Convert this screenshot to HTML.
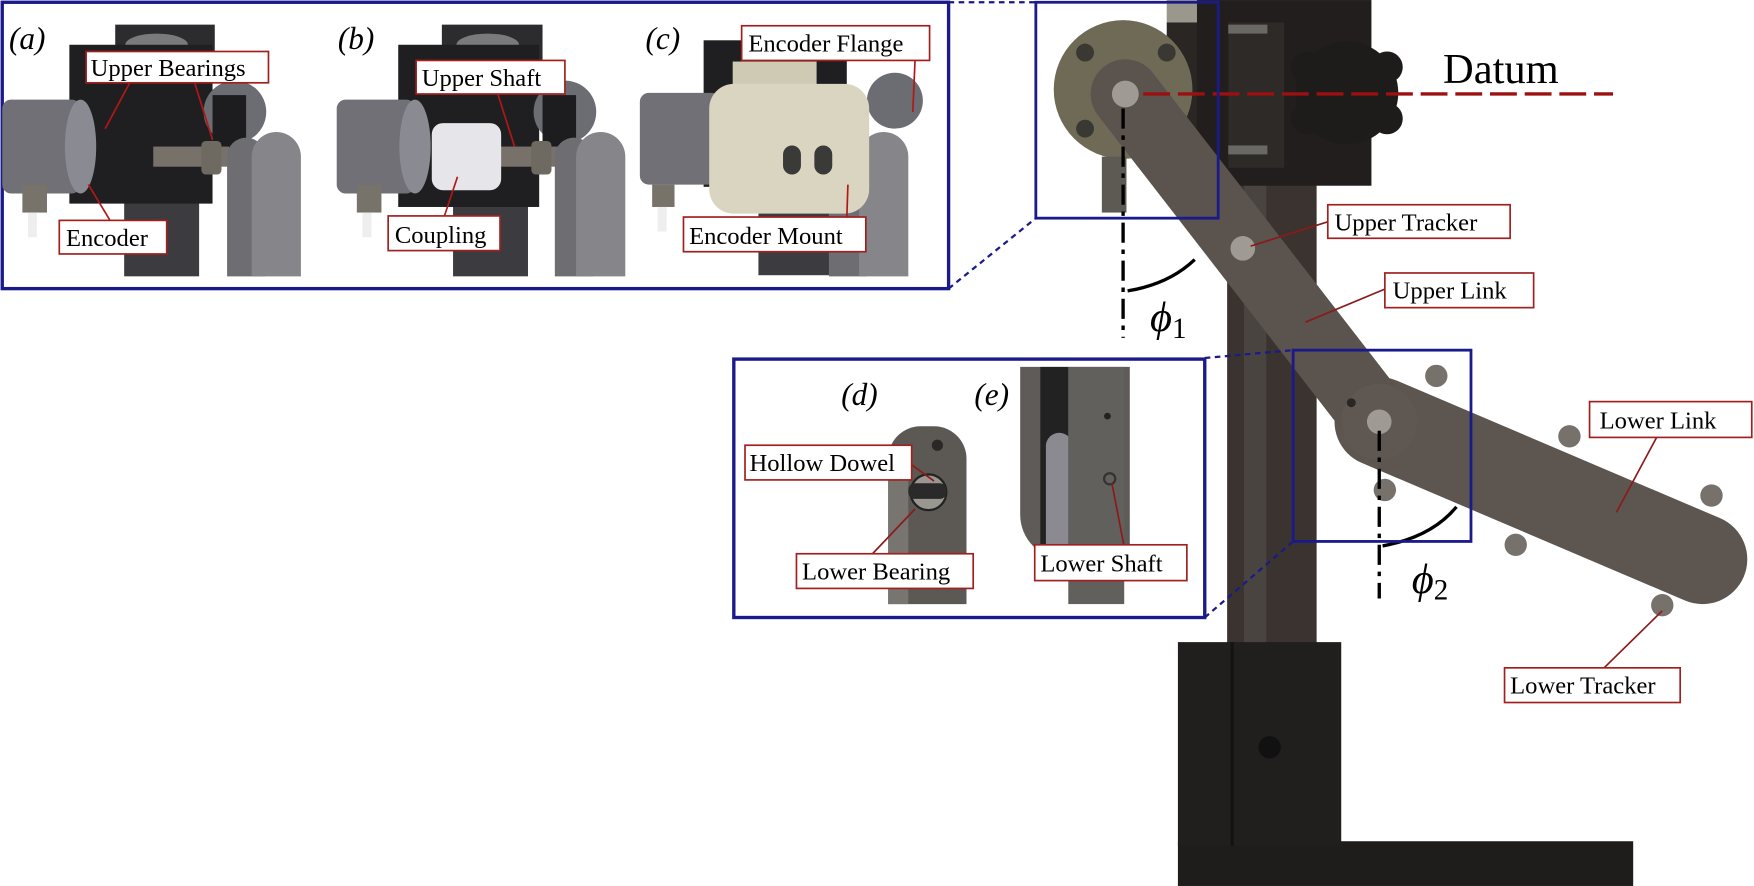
<!DOCTYPE html>
<html><head><meta charset="utf-8"><style>
html,body{margin:0;padding:0;background:#fff;}
svg{display:block;}
text{font-family:"Liberation Serif",serif;}
</style></head><body>
<svg width="1754" height="886" viewBox="0 0 1568 792" xmlns="http://www.w3.org/2000/svg">
<rect width="1568" height="792" fill="#fff"/>

<!-- foot -->
<rect x="1053" y="752" width="407" height="40" fill="#1f1c1c"/>
<!-- pole -->
<rect x="1097" y="160" width="80" height="420" fill="#3a332f"/>
<rect x="1112" y="160" width="20" height="420" fill="#4a4440"/>
<!-- base block -->
<rect x="1053" y="574" width="146" height="182" fill="#211e1e"/>
<rect x="1100" y="574" width="3" height="182" fill="#151212"/>
<circle cx="1135" cy="668" r="10" fill="#111"/>
<!-- top dark block -->
<rect x="1043" y="0" width="27" height="20" fill="#9a978c"/>
<rect x="1043" y="20" width="30" height="150" fill="#2a2624"/>
<rect x="1070" y="0" width="156" height="166" fill="#221e1d"/>
<rect x="1098" y="20" width="50" height="130" fill="#2e2a28"/>
<rect x="1098" y="22" width="35" height="8" fill="#6a6864"/>
<rect x="1098" y="130" width="35" height="8" fill="#6a6864"/>
<!-- knob -->
<circle cx="1204" cy="83" r="46" fill="#1e1b1b"/>
<circle cx="1168" cy="60" r="14" fill="#1e1b1b"/><circle cx="1240" cy="60" r="14" fill="#1e1b1b"/>
<circle cx="1168" cy="106" r="14" fill="#1e1b1b"/><circle cx="1240" cy="106" r="14" fill="#1e1b1b"/>
<!-- encoder flange -->
<circle cx="1004" cy="80" r="62" fill="#6f6a55"/>
<circle cx="970" cy="47" r="8" fill="#3a3833"/><circle cx="1043" cy="47" r="8" fill="#3a3833"/><circle cx="970" cy="115" r="8" fill="#3a3833"/>
<rect x="985" y="140" width="22" height="50" fill="#5c5a52"/>
<!-- lower tracker bumps -->
<g fill="#77716c">
<circle cx="1284" cy="336" r="10"/><circle cx="1403" cy="390" r="10"/><circle cx="1530" cy="443" r="10"/>
<circle cx="1355" cy="487" r="10"/><circle cx="1486" cy="541" r="10"/><circle cx="1238" cy="438" r="10"/>
</g>
<!-- lower link -->
<line x1="1233" y1="377" x2="1522" y2="500" stroke="#5c5550" stroke-width="80" stroke-linecap="round"/>
<!-- upper link -->
<line x1="1006" y1="84" x2="1233" y2="377" stroke="#5a534e" stroke-width="62" stroke-linecap="round"/>
<circle cx="1233" cy="377" r="34" fill="#5e5752"/>
<circle cx="1208" cy="360" r="4" fill="#2a2624"/>
<circle cx="1006" cy="84" r="12" fill="#a09a94"/>
<circle cx="1111" cy="222" r="11" fill="#a09a94"/>
<circle cx="1233" cy="377" r="11" fill="#a09a94"/>

<!-- datum -->
<line x1="1022" y1="84" x2="1442" y2="84" stroke="#9b1010" stroke-width="3" stroke-dasharray="24,7"/>
<text x="1290" y="74" font-size="38" fill="#000">Datum</text>
<!-- phi1 -->
<line x1="1004" y1="97" x2="1004" y2="302" stroke="#000" stroke-width="3" stroke-dasharray="18,6,4,6"/>
<path d="M1008 260 Q1045 254 1068 232" fill="none" stroke="#000" stroke-width="3"/>
<text x="1028" y="296" font-size="38" font-style="italic">ϕ<tspan font-size="26" font-style="normal" dy="6">1</tspan></text>
<!-- phi2 -->
<line x1="1233" y1="385" x2="1233" y2="535" stroke="#000" stroke-width="3" stroke-dasharray="18,6,4,6"/>
<path d="M1236 488 Q1280 480 1302 453" fill="none" stroke="#000" stroke-width="3"/>
<text x="1262" y="530" font-size="38" font-style="italic">ϕ<tspan font-size="26" font-style="normal" dy="6">2</tspan></text>

<rect x="926" y="2" width="163" height="193" fill="none" stroke="#1a1a8a" stroke-width="2.5"/>
<rect x="1156" y="313" width="159" height="171" fill="none" stroke="#1a1a8a" stroke-width="2.5"/>
<g stroke="#1a1a8a" stroke-width="2" stroke-dasharray="5,4">
<line x1="848" y1="2" x2="926" y2="2"/>
<line x1="848" y1="258" x2="926" y2="195"/>
<line x1="1077" y1="320" x2="1156" y2="313"/>
<line x1="1077" y1="552" x2="1156" y2="484"/>
</g>

<g stroke="#8b1a1a" stroke-width="1.5" fill="none">
<line x1="1194" y1="196" x2="1118" y2="220"/>
<line x1="1239" y1="258" x2="1167" y2="288"/>
<line x1="1489" y1="376" x2="1445" y2="458"/>
<line x1="1433" y1="598" x2="1486" y2="546"/>
</g>
<g fill="#fff" stroke="#a02020" stroke-width="1.5">
<rect x="1187" y="183" width="163" height="30"/>
<rect x="1238" y="244" width="133" height="31"/>
<rect x="1421" y="359" width="145" height="32"/>
<rect x="1345" y="597" width="157" height="31"/>
</g>
<g font-size="22" fill="#000">
<text x="1193" y="206">Upper Tracker</text>
<text x="1245" y="267">Upper Link</text>
<text x="1430" y="383">Lower Link</text>
<text x="1350" y="620">Lower Tracker</text>
</g>

<!-- ===== Top panel ===== -->
<rect x="2" y="2" width="846" height="256" fill="#fff" stroke="#1a1a8a" stroke-width="3"/>
<rect x="111" y="175" width="67" height="72" fill="#3c3c40"/>
<rect x="103" y="22" width="89" height="40" fill="#2c2c2e"/>
<ellipse cx="140" cy="40" rx="28" ry="10" fill="#7a7a7c"/>
<rect x="62" y="40" width="128" height="142" fill="#1f1f21"/>
<circle cx="210" cy="100" r="28" fill="#6b6d72"/>
<rect x="190" y="85" width="30" height="50" fill="#1d1d1f"/>
<rect x="137" y="131" width="68" height="18" fill="#77716a"/>
<rect x="180" y="126" width="18" height="30" rx="4" fill="#6e6a62"/>
<path d="M203 247 V140 a17 17 0 0 1 34 0 V247 Z" fill="#6e6e72"/>
<path d="M225 247 V140 a22 22 0 0 1 44 0 V247 Z" fill="#85858a"/>
<rect x="2" y="89" width="70" height="84" rx="8" fill="#707076"/>
<ellipse cx="72" cy="131" rx="14" ry="42" fill="#8a8a92"/>
<rect x="20" y="165" width="22" height="25" fill="#77736a"/>
<rect x="25" y="190" width="8" height="22" fill="#eee"/>
<text x="8" y="44" font-size="28" font-style="italic">(a)</text>
<rect x="405" y="175" width="67" height="72" fill="#3c3c40"/>
<rect x="395" y="22" width="90" height="40" fill="#2c2c2e"/>
<ellipse cx="436" cy="40" rx="28" ry="10" fill="#7a7a7c"/>
<rect x="356" y="40" width="126" height="145" fill="#1f1f21"/>
<circle cx="505" cy="100" r="28" fill="#6b6d72"/>
<rect x="485" y="85" width="30" height="50" fill="#1d1d1f"/>
<rect x="440" y="131" width="60" height="18" fill="#77716a"/>
<rect x="475" y="126" width="18" height="30" rx="4" fill="#6e6a62"/>
<path d="M496 247 V140 a17 17 0 0 1 34 0 V247 Z" fill="#6e6e72"/>
<path d="M515 247 V140 a22 22 0 0 1 44 0 V247 Z" fill="#85858a"/>
<rect x="301" y="89" width="70" height="84" rx="8" fill="#707076"/>
<ellipse cx="371" cy="131" rx="14" ry="42" fill="#8a8a92"/>
<rect x="386" y="110" width="62" height="60" rx="10" fill="#e6e6ea"/>
<rect x="319" y="165" width="22" height="25" fill="#77736a"/>
<rect x="324" y="190" width="8" height="22" fill="#eee"/>
<text x="302" y="44" font-size="28" font-style="italic">(b)</text>
<rect x="678" y="178" width="64" height="68" fill="#3c3c40"/>
<rect x="629" y="36" width="128" height="131" fill="#1f1f21"/>
<path d="M741 247 V140 a17 17 0 0 1 34 0 V247 Z" fill="#6e6e72"/>
<path d="M768 247 V140 a22 22 0 0 1 44 0 V247 Z" fill="#85858a"/>
<circle cx="800" cy="90" r="25" fill="#6b6d72"/>
<rect x="572" y="83" width="72" height="82" rx="8" fill="#707076"/>
<rect x="655" y="55" width="75" height="40" fill="#cfcab4"/>
<rect x="634" y="75" width="143" height="116" rx="22" fill="#d9d5c0"/>
<rect x="700" y="130" width="16" height="26" rx="8" fill="#3a3a38"/>
<rect x="728" y="130" width="16" height="26" rx="8" fill="#3a3a38"/>
<rect x="583" y="165" width="20" height="20" fill="#77736a"/>
<rect x="588" y="185" width="8" height="22" fill="#eee"/>
<text x="577" y="44" font-size="28" font-style="italic">(c)</text>

<g stroke="#b01818" stroke-width="1.5">
<line x1="116" y1="74" x2="94" y2="115"/>
<line x1="174" y1="74" x2="190" y2="125"/>
<line x1="99" y1="198" x2="79" y2="165"/>
<line x1="445" y1="84" x2="460" y2="131"/>
<line x1="397" y1="194" x2="409" y2="158"/>
<line x1="818" y1="54" x2="816" y2="100"/>
<line x1="757" y1="195" x2="758" y2="165"/>
</g>
<g fill="#fff" stroke="#a02020" stroke-width="1.5">
<rect x="77" y="46" width="163" height="28"/>
<rect x="53" y="197" width="96" height="30"/>
<rect x="372" y="54" width="133" height="30"/>
<rect x="347" y="193" width="100" height="31"/>
<rect x="663" y="23" width="168" height="31"/>
<rect x="611" y="194" width="163" height="31"/>
</g>
<g font-size="22" fill="#000">
<text x="81" y="68">Upper Bearings</text>
<text x="59" y="220">Encoder</text>
<text x="377" y="77">Upper Shaft</text>
<text x="353" y="217">Coupling</text>
<text x="669" y="46">Encoder Flange</text>
<text x="616" y="218">Encoder Mount</text>
</g>

<!-- ===== Middle panel ===== -->
<rect x="656" y="321" width="421" height="231" fill="#fff" stroke="#1a1a8a" stroke-width="3"/>
<path d="M794 540 V410 a29 29 0 0 1 29 -29 h12 a29 29 0 0 1 29 29 V540 Z" fill="#5c5854"/>
<rect x="794" y="410" width="18" height="130" fill="#78746f"/>
<circle cx="838" cy="398" r="5" fill="#2a2826"/>
<circle cx="830" cy="440" r="16" fill="#9a9690" stroke="#222" stroke-width="2"/>
<rect x="812" y="432" width="34" height="14" rx="6" fill="#2b2a2a"/>
<path d="M912 328 V460 a40 40 0 0 0 40 40 h58 V328 Z" fill="#5e5b58"/>
<rect x="930" y="328" width="25" height="172" fill="#222"/>
<rect x="955" y="328" width="50" height="212" fill="#62605d"/>
<path d="M935 500 V400 a12 12 0 0 1 20 -10 V500 Z" fill="#8a8a90"/>
<circle cx="990" cy="372" r="3" fill="#222"/>
<circle cx="992" cy="428" r="5" fill="none" stroke="#333" stroke-width="2"/>
<text x="752" y="362" font-size="28" font-style="italic">(d)</text>
<text x="871" y="362" font-size="28" font-style="italic">(e)</text>
<g stroke="#8b1a1a" stroke-width="1.5">
<line x1="813" y1="414" x2="835" y2="430"/>
<line x1="780" y1="495" x2="818" y2="455"/>
<line x1="1005" y1="489" x2="994" y2="432"/>
</g>
<g fill="#fff" stroke="#a02020" stroke-width="1.5">
<rect x="666" y="398" width="149" height="31"/>
<rect x="712" y="495" width="158" height="31"/>
<rect x="925" y="487" width="136" height="32"/>
</g>
<g font-size="22" fill="#000">
<text x="670" y="421">Hollow Dowel</text>
<text x="717" y="518">Lower Bearing</text>
<text x="930" y="511">Lower Shaft</text>
</g>
</svg>
</body></html>
